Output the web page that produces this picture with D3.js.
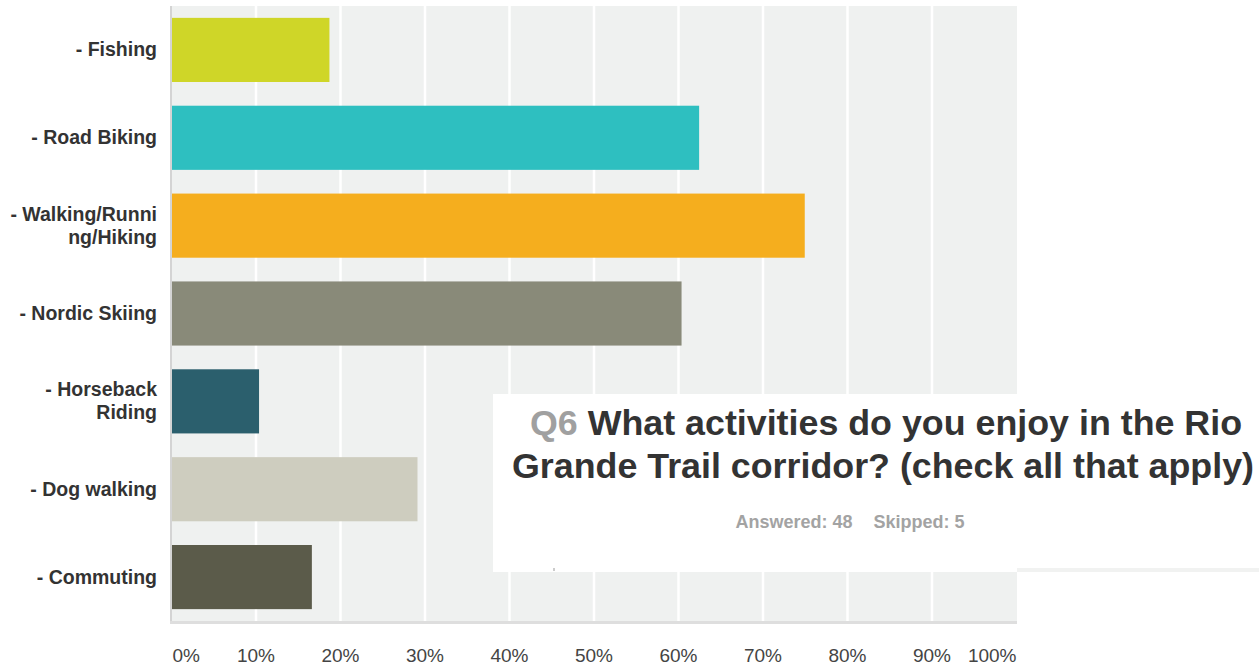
<!DOCTYPE html>
<html>
<head>
<meta charset="utf-8">
<script src="https://cdn.jsdelivr.net/npm/d3@7"></script>
<style>
  body { margin: 0; background: #fff; }
  svg { display: block; font-family: "Liberation Sans", Arial, sans-serif; }
  .cat { font-size: 19.5px; font-weight: bold; fill: #333; }
  .tick text { font-size: 19px; fill: #444; }
</style>
</head>
<body>
<svg id="chart"></svg>
<script>
// data (48 answered)
var categories = ["- Fishing", "- Road Biking", "- Walking/Running/Hiking", "- Nordic Skiing",
                  "- Horseback Riding", "- Dog walking", "- Commuting"];
var labelLines = [["- Fishing"], ["- Road Biking"], ["- Walking/Runni", "ng/Hiking"], ["- Nordic Skiing"],
                  ["- Horseback", "Riding"], ["- Dog walking"], ["- Commuting"]];
var percents = [18.75, 62.5, 75, 60.42, 10.42, 29.17, 16.67];
var colors = ["#cfd628", "#2ebfc0", "#f5ae1e", "#898a79", "#2b5f6d", "#cecdbf", "#5b5b4a"];
var tickValues = [0, 10, 20, 30, 40, 50, 60, 70, 80, 90, 100];
var titleNum = "Q6";
var titleLines = ["What activities do you enjoy in the Rio", "Grande Trail corridor? (check all that apply)"];
var answered = "Answered: 48", skipped = "Skipped: 5";

var width = 1259,
    height = 666;

var svg = d3.select("#chart")
    .attr("width", width)
    .attr("height", height);

var x = d3.scaleLinear()
    .domain([0, 100])
    .range([171, 1016]);

var y = d3.scaleBand()
    .domain(categories)
    .range([6, 621])
    .paddingInner(0.27)
    .paddingOuter(0.135);

// plot background
svg.append("rect")
    .attr("x", x(0))
    .attr("y", 6)
    .attr("width", x(100) - x(0) + 1)
    .attr("height", 615)
    .attr("fill", "#eff1f0");

// gridlines
svg.append("g")
    .attr("transform", "translate(0,6)")
    .call(d3.axisBottom(x).tickValues(tickValues.slice(1, -1)).tickSize(615).tickFormat(""))
    .call(function(g) {
      g.select(".domain").remove();
      g.selectAll("line").attr("stroke", "#fff").attr("stroke-width", 2.5);
    });

// bars
svg.append("g")
  .selectAll("rect")
    .data(percents)
  .enter().append("rect")
    .attr("x", x(0))
    .attr("y", function(d, i) { return y(categories[i]); })
    .attr("width", function(d) { return x(d) - x(0); })
    .attr("height", y.bandwidth())
    .attr("fill", function(d, i) { return colors[i]; });

// axis lines
svg.append("rect").attr("x", 170).attr("y", 6).attr("width", 2).attr("height", 618).attr("fill", "#d4d4d4");
svg.append("rect").attr("x", 170).attr("y", 621).attr("width", x(100) - 169).attr("height", 3).attr("fill", "#dedede");

// category labels
var labels = svg.append("g").attr("class", "cat").attr("text-anchor", "end");
labelLines.forEach(function(lines, i) {
  var cy = y(categories[i]) + y.bandwidth() / 2;
  var t = labels.append("text").attr("x", 157);
  var y0 = lines.length === 1 ? cy + 6.5 : cy - 5;
  lines.forEach(function(s, j) {
    t.append("tspan").attr("x", 157).attr("y", y0 + j * 23).text(s);
  });
});

// x tick labels
svg.append("g")
    .attr("transform", "translate(0,643)")
    .call(d3.axisBottom(x).tickValues(tickValues).tickSize(0).tickPadding(0)
      .tickFormat(function(d) { return d + "%"; }))
    .call(function(g) {
      g.select(".domain").remove();
      g.selectAll("text")
        .attr("dy", "0")
        .attr("y", 19)
        .attr("text-anchor", function(d) { return d === 0 ? "start" : d === 100 ? "end" : "middle"; })
        .attr("dx", function(d) { return d === 0 ? 1 : 0; });
    });

// title box laid over the chart
svg.append("rect").attr("x", 493).attr("y", 394).attr("width", 770).attr("height", 178).attr("fill", "#fff");
svg.append("rect").attr("x", 1017).attr("y", 568).attr("width", 242).attr("height", 4).attr("fill", "#f1f2f1");
svg.append("rect").attr("x", 553).attr("y", 568).attr("width", 2).attr("height", 3).attr("fill", "#ccc");

var title = svg.append("g")
    .attr("text-anchor", "middle")
    .style("font-size", "35.8px")
    .style("font-weight", "bold");
var t1 = title.append("text").attr("x", 886).attr("y", 435).attr("fill", "#333");
t1.append("tspan").attr("fill", "#a0a0a0").text(titleNum + " ");
t1.append("tspan").text(titleLines[0]);
title.append("text").attr("x", 883).attr("y", 478).attr("fill", "#333").text(titleLines[1]);

var sub = svg.append("text")
    .attr("x", 850).attr("y", 528)
    .attr("text-anchor", "middle")
    .attr("fill", "#a3a3a3")
    .style("font-size", "18px")
    .style("font-weight", "bold");
sub.append("tspan").text(answered);
sub.append("tspan").attr("dx", 21).text(skipped);
</script>
</body>
</html>
